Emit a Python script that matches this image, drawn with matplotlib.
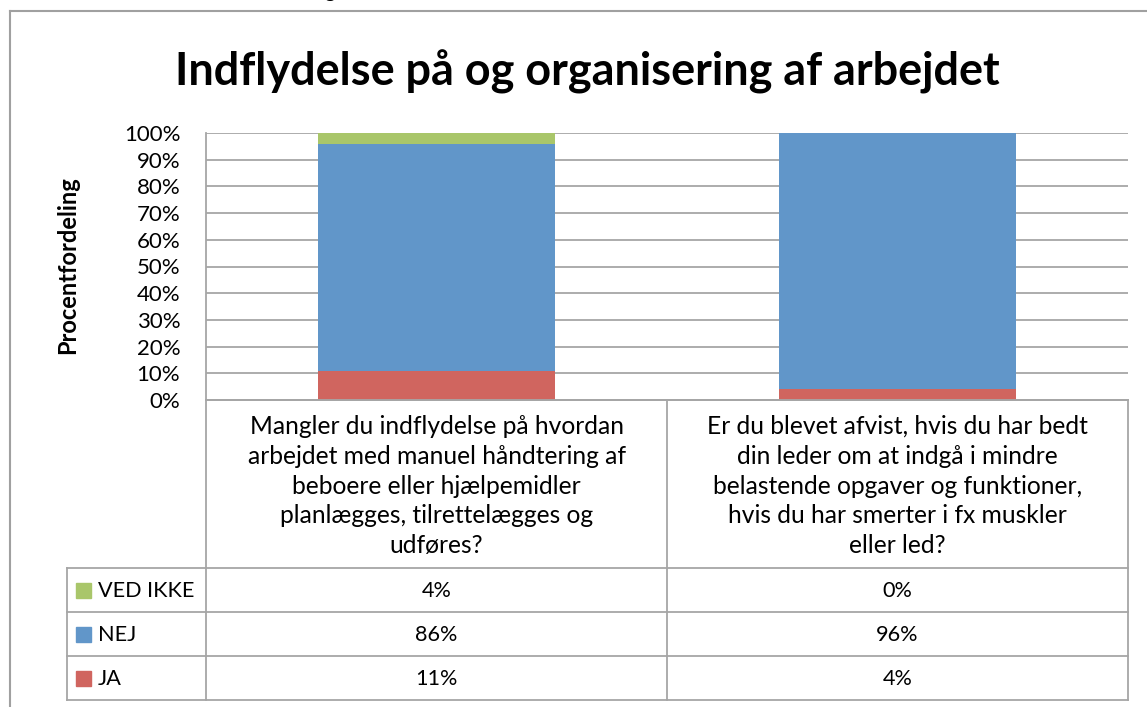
import numpy as np
import matplotlib.pyplot as plt
from matplotlib.patches import Rectangle

plt.rcParams["font.family"] = ["Lato", "DejaVu Sans"]

# data
categories = [
    "Mangler du indflydelse på hvordan\narbejdet med manuel håndtering af\nbeboere eller hjælpemidler\nplanlægges, tilrettelægges og\nudføres?",
    "Er du blevet afvist, hvis du har bedt\ndin leder om at indgå i mindre\nbelastende opgaver og funktioner,\nhvis du har smerter i fx muskler\neller led?",
]
series = ["VED IKKE", "NEJ", "JA"]
ved_ikke = [4, 0]
nej = [86, 96]
ja = [11, 4]
values = {"VED IKKE": ved_ikke, "NEJ": nej, "JA": ja}
colors = {"VED IKKE": "#A9C66A", "NEJ": "#6196C9", "JA": "#D0655F"}

W, H = 1147, 707
grid_col = "#A6A6A6"

fig = plt.figure(figsize=(W / 100, H / 100), dpi=100)

# plot area in pixels
left, right, top, bottom = 206, 1128, 133, 400
ax = fig.add_axes([left / W, 1 - bottom / H, (right - left) / W, (bottom - top) / H])

x = np.arange(len(categories)) + 0.5
totals = np.array(ja) + np.array(nej) + np.array(ved_ikke)
base = np.zeros(len(categories))
for name in ["JA", "NEJ", "VED IKKE"]:
    share = np.array(values[name]) / totals * 100
    ax.bar(x, share, width=0.514, bottom=base, color=colors[name], zorder=3)
    base += share

ax.set_xlim(0, len(categories))
ax.set_ylim(0, 100)
ax.set_yticks(np.arange(0, 101, 10))
ax.set_yticklabels([f"{v}%" for v in range(0, 101, 10)], fontsize=16)
ax.set_xticks([])
ax.tick_params(axis="y", length=0, pad=18.5)
ax.grid(axis="y", color=grid_col, lw=1.3, zorder=0)
for s in ["top", "right"]:
    ax.spines[s].set_visible(False)
for s in ["left", "bottom"]:
    ax.spines[s].set_color(grid_col)
    ax.spines[s].set_linewidth(1.3)

# overlay in pixel coordinates for the table and frame
ov = fig.add_axes([0, 0, 1, 1], zorder=5)
ov.set_xlim(0, W)
ov.set_ylim(H, 0)
ov.axis("off")

# outer frame (partly visible)
ov.plot([10, 10], [11, H], color="#A0A0A0", lw=1.5)
ov.plot([10, W], [11, 11], color="#A0A0A0", lw=1.5)
ov.text(330, -3, "g", fontsize=15, ha="center", va="baseline", clip_on=False)

fig.text(587 / W, 1 - 72 / H, "Indflydelse på og organisering af arbejdet",
         ha="center", va="center", fontsize=32.4, fontweight="bold")
fig.text(68 / W, 1 - 265 / H, "Procentfordeling", rotation=90,
         ha="center", va="center", fontsize=17, fontweight="bold")

# data table
row_h = 44
row_top = 568
tab_left = 67
col_w = (right - left) / len(categories)
lw = 1.3
# header cells
ov.plot([left, right], [bottom, bottom], color=grid_col, lw=lw)
for i, cat in enumerate(categories):
    cx = left + (i + 0.5) * col_w
    ov.text(cx, 486, cat, ha="center", va="center", fontsize=17.7, linespacing=1.36)
# rows
for r in range(len(series) + 1):
    yy = row_top + r * row_h
    ov.plot([tab_left, right], [yy, yy], color=grid_col, lw=lw)
ov.plot([tab_left, tab_left], [row_top, row_top + len(series) * row_h], color=grid_col, lw=lw)
for i in range(len(categories) + 1):
    xx = left + i * col_w
    ov.plot([xx, xx], [bottom, row_top + len(series) * row_h], color=grid_col, lw=lw)
for r, name in enumerate(series):
    cy = row_top + r * row_h + row_h / 2
    ov.add_patch(Rectangle((76, cy - 7), 15, 15, color=colors[name]))
    ov.text(98, cy + 1, name, ha="left", va="center", fontsize=15.6)
    for i, v in enumerate(values[name]):
        cx = left + (i + 0.5) * col_w
        ov.text(cx, cy + 1, f"{v}%", ha="center", va="center", fontsize=15.6)

fig.savefig("out.png", dpi=100)
